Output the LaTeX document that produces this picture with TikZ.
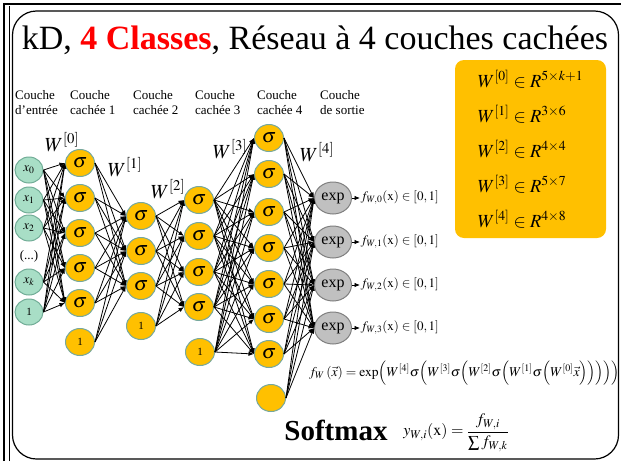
\documentclass[tikz,border=0pt]{standalone}
\usepackage{mathptmx}
\usepackage{fontspec}
\setmainfont{Liberation Serif}
\usetikzlibrary{arrows.meta,positioning,shapes.geometric}
\definecolor{mintgreen}{RGB}{168,222,198}
\definecolor{mintdraw}{RGB}{112,172,150}
\definecolor{sunorange}{RGB}{255,192,0}
\definecolor{neurdraw}{RGB}{118,168,158}
\definecolor{expgrey}{RGB}{192,192,192}
\definecolor{expdraw}{RGB}{128,128,128}

\begin{document}
\begin{tikzpicture}[x=1pt, y=-1pt, inn/.style={ellipse, draw=mintdraw, fill=mintgreen, line width=1pt, minimum width=28pt, minimum height=26pt, inner sep=0pt, font=\fontsize{13}{15}\selectfont}, neur/.style={ellipse, draw=neurdraw, fill=sunorange, line width=1pt, minimum width=29pt, minimum height=27pt, inner sep=0pt, font=\fontsize{20}{22}\selectfont}, bias/.style={neur, font=\fontsize{11}{13}\selectfont}, outn/.style={ellipse, draw=expdraw, fill=expgrey, line width=1pt, minimum width=37pt, minimum height=32pt, inner sep=0pt, font=\fontsize{16}{18}\selectfont}, arr/.style={-{Latex[length=5.5pt,width=4.5pt]}, line width=0.8pt}, head/.style={anchor=north west, align=left, inner sep=0pt, font=\fontsize{13}{15}\selectfont}, wlab/.style={inner sep=0pt, font=\fontsize{20}{22}\selectfont}]
\useasboundingbox (0,0) rectangle (621,461);
\fill[white] (0,0) rectangle (621,461);
% slide frame
\draw[line width=2pt] (4,461) -- (4,4) -- (621,4);
\draw[line width=1pt] (9.5,461) -- (9.5,6);
\draw[line width=1.2pt, rounded corners=24pt] (12.5,11) rectangle (618.5,459);
\node[font=\fontsize{34}{40}\selectfont] (title) at (315,40) {kD, \textcolor{red}{\textbf{4 Classes}}, Réseau à 4 couches cachées};
% layer headers
\node[head] (h0) at (15,90) {Couche\\d’entrée};
\node[head] (h1) at (70,90) {Couche\\cachée 1};
\node[head] (h2) at (133,90) {Couche\\cachée 2};
\node[head] (h3) at (195,90) {Couche\\cachée 3};
\node[head] (h4) at (257,90) {Couche\\cachée 4};
\node[head] (h5) at (320,90) {Couche\\de sortie};
% input layer
\node[inn] (in1) at (29,170) {$x_0$};
\node[inn] (in2) at (29,200) {$x_1$};
\node[inn] (in3) at (29,228) {$x_2$};
\node[inner sep=0pt, font=\fontsize{13}{15}\selectfont] (dots) at (29,256) {(...)};
\node[inn] (in4) at (29,282) {$x_k$};
\node[inn, font=\fontsize{11}{13}\selectfont] (in5) at (29,312) {1};
% hidden layers
\foreach \y [count=\k] in {163,198,233,268,303} \node[neur] (hA\k) at (80,\y) {$\sigma$};
\node[bias] (hA6) at (80,342) {1};
\foreach \y [count=\k] in {216,251,286} \node[neur] (hB\k) at (141,\y) {$\sigma$};
\node[bias] (hB4) at (141,326) {1};
\foreach \y [count=\k] in {200,236,272,307} \node[neur] (hC\k) at (199,\y) {$\sigma$};
\node[bias] (hC5) at (200,352) {1};
\foreach \y [count=\k] in {138,174,212,248,284,319,354} \node[neur] (hD\k) at (269,\y) {$\sigma$};
\node[neur] (hD8) at (271,398) {};
% output layer
\foreach \y [count=\k] in {198,242,285,328} {
  \node[outn] (out\k) at (333,\y) {exp};
  \pgfmathtruncatemacro{\j}{\k-1}
  \node[anchor=west, inner sep=0.5pt, font=\fontsize{13}{15}\selectfont] (f\k) at (360,\y) {$f_{W,\j}(\mathrm{x})\in[0,1]$};
  \draw[arr] (out\k) -- (f\k);
}
% weights
\foreach \s in {1,...,5} \foreach \t in {1,...,5} \draw[arr] (in\s.east) -- (hA\t.west);
\foreach \s in {1,...,6} \foreach \t in {1,...,3} \draw[arr] (hA\s.east) -- (hB\t.west);
\foreach \s in {1,...,4} \foreach \t in {1,...,4} \draw[arr] (hB\s.east) -- (hC\t.west);
\foreach \s in {1,...,5} \foreach \t in {1,...,7} \draw[arr] (hC\s.east) -- (hD\t.west);
\foreach \s in {1,...,8} \foreach \t in {1,...,4} \draw[arr] (hD\s.east) -- (out\t.west);
\node[wlab] (w0) at (62,142) {$W^{[0]}$};
\node[wlab] (w1) at (125,167) {$W^{[1]}$};
\node[wlab] (w2) at (168,189) {$W^{[2]}$};
\node[wlab] (w3) at (230,149) {$W^{[3]}$};
\node[wlab] (w4) at (317,152) {$W^{[4]}$};
% dimensions
\node[rounded corners=9pt, fill=sunorange, minimum width=151pt, minimum height=178pt, align=left, font=\fontsize{18.5}{35}\selectfont] (wbox) at (530.5,149) {$W^{[0]}\in R^{5\times k+1}$\\$W^{[1]}\in R^{3\times 6}$\\$W^{[2]}\in R^{4\times 4}$\\$W^{[3]}\in R^{5\times 7}$\\$W^{[4]}\in R^{4\times 8}$};
% formulas
\node[font=\fontsize{13.5}{15}\selectfont] (fw) at (464.5,373) {$f_W\,(\vec{x}) = \exp\Bigl(W^{[4]}\sigma\Bigl(W^{[3]}\sigma\Bigl(W^{[2]}\sigma\Bigl(W^{[1]}\sigma\Bigl(W^{[0]}\vec{x}\Bigr)\Bigr)\Bigr)\Bigr)\Bigr)$};
\node[font=\fontsize{29}{32}\selectfont] (smx) at (336,430) {\textbf{Softmax}};
\node[font=\fontsize{16}{18}\selectfont] (ydef) at (456,433) {$\displaystyle y_{W,i}(\mathrm{x})=\frac{f_{W,i}}{\sum f_{W,k}}$};
\end{tikzpicture}
\end{document}
